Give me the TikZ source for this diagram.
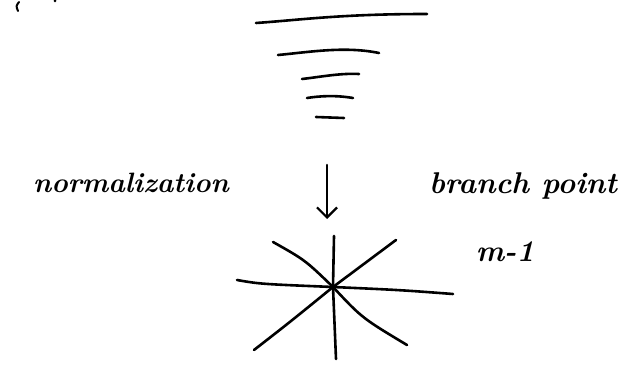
\documentclass[tikz,border=0pt]{standalone}
\usetikzlibrary{arrows.meta}
\begin{document}
\begin{tikzpicture}[x=1pt,y=-1pt,
  stroke/.style={line width=2.6pt,line cap=round,line join=round},
  thin stroke/.style={line width=2pt,line cap=round},
  hand/.style={font=\fontsize{30}{32}\selectfont\bfseries\itshape,inner sep=0pt}]
\path[use as bounding box,fill=white] (0,0) rectangle (629,371);
% partial mark at top left
\draw[thin stroke] (19,2) .. controls (16,6) .. (18,11);
\fill (55,1) circle (1.5);
% tapering lines
\coordinate (l1a) at (256,23); \coordinate (l1b) at (427,14);
\coordinate (l2a) at (278,55); \coordinate (l2b) at (379,53);
\coordinate (l3a) at (302,79); \coordinate (l3b) at (359,74);
\coordinate (l4a) at (307,98); \coordinate (l4b) at (353,98);
\coordinate (l5a) at (316,117); \coordinate (l5b) at (344,118);
\draw[stroke] (l1a) .. controls (300,20) and (340,14) .. (l1b);
\draw[stroke] (l2a) .. controls (310,52) and (345,46) .. (l2b);
\draw[stroke] (l3a) .. controls (320,77) and (340,73) .. (l3b);
\draw[stroke] (l4a) .. controls (320,96) and (335,95) .. (l4b);
\draw[stroke] (l5a) -- (l5b);
% arrow
\coordinate (atop) at (327,165);
\coordinate (abot) at (327,219);
\draw[stroke,-{Straight Barb[length=10pt,width=20pt,line width=2.2pt]}] (atop) -- (abot);
% star
\coordinate (c) at (333,287);
\coordinate (r1) at (334,236);
\coordinate (r2) at (336,359);
\coordinate (r3) at (273,242);
\coordinate (r4) at (396,240);
\coordinate (r5) at (237,280);
\coordinate (r6) at (453,294);
\coordinate (r7) at (254,350);
\coordinate (r8) at (407,345);
\draw[stroke] (r1) -- (c) -- (r2);
\draw[stroke] (r3) .. controls (305,260) .. (c) -- (r4);
\draw[stroke] (r5) .. controls (260,284) .. (c) .. controls (400,290) .. (r6);
\draw[stroke] (r7) .. controls (290,322) .. (c) .. controls (362,318) .. (r8);
% labels
\node[hand,font=\fontsize{28}{30}\selectfont\bfseries\itshape] (norm) at (131,183) {normalization};
\node[hand] (bp) at (523,186) {branch point};
\node[hand] (m1) at (505,252) {m-1};
\end{tikzpicture}
\end{document}
